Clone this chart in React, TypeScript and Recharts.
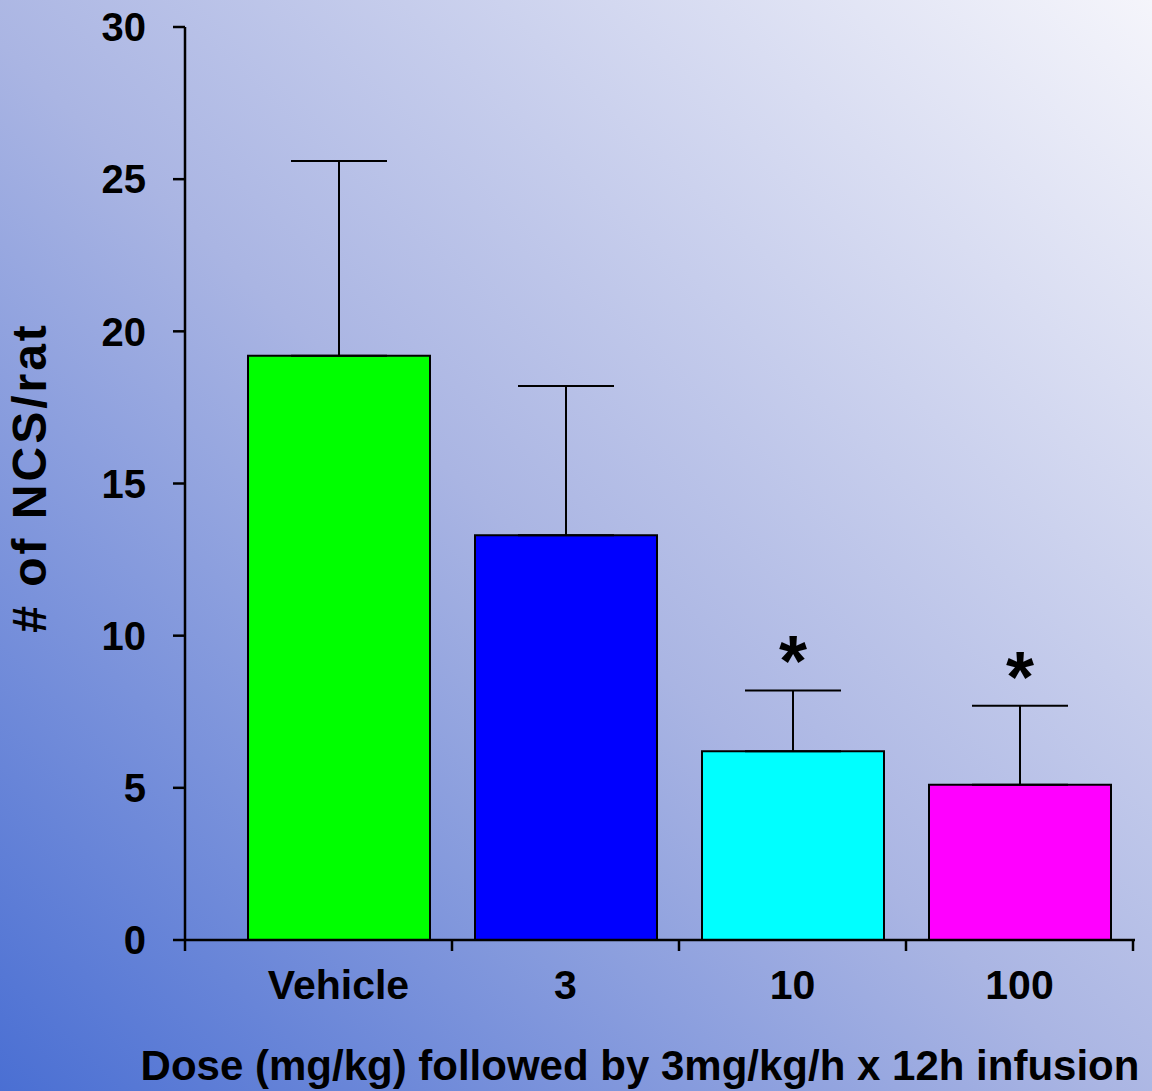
import { BarChart, Bar, XAxis, YAxis, Cell, ErrorBar, LabelList, Label } from "recharts";

const CATEGORIES = ["Vehicle", "3", "10", "100"];
const MEANS = [19.2, 13.3, 6.2, 5.1];
const SEMS = [6.4, 4.9, 2.0, 2.6];
const SIGNIFICANT = [false, false, true, true];
const BAR_COLORS = ["#00ff00", "#0000ff", "#00ffff", "#ff00ff"];
const Y_TICKS = [0, 5, 10, 15, 20, 25, 30];

const FONT = "'Liberation Sans', Arial, Helvetica, sans-serif";
const PAD_LEFT = 40;

const data = CATEGORIES.map((name, i) => ({
  name,
  value: MEANS[i],
  err: [0, SEMS[i]],
  sig: SIGNIFICANT[i] ? "*" : "",
}));

function XTick(props: any) {
  const { x, y, payload, index } = props;
  const half = payload?.offset ?? 0;
  return (
    <g>
      <line x1={x + half} x2={x + half} y1={y} y2={y + 11} stroke="#000" strokeWidth={2.5} />
      {index === 0 && (
        <line x1={x - half - PAD_LEFT} x2={x - half - PAD_LEFT} y1={y} y2={y + 11} stroke="#000" strokeWidth={2.5} />
      )}
      <text x={x} y={y + 59} textAnchor="middle" fontFamily={FONT} fontWeight="bold" fontSize={41} fill="#000">
        {payload.value}
      </text>
    </g>
  );
}

function renderStar(props: any) {
  const { x, y, width, height, value, index } = props;
  if (!value) return null;
  const ppu = Number(height) / MEANS[index];
  const capY = Number(y) - SEMS[index] * ppu;
  return (
    <text x={Number(x) + Number(width) / 2} y={capY - 4} textAnchor="middle" fontFamily={FONT} fontWeight="bold" fontSize={72} fill="#000">
      {value}
    </text>
  );
}

export default function App() {
  return (
    <div
      style={{
        position: "absolute",
        left: 0,
        top: 0,
        width: 1152,
        height: 1091,
        overflow: "hidden",
        background: "linear-gradient(to top right, #4a6fd3 0%, #aab5e3 48%, #f5f5fb 100%)",
      }}
    >
      <BarChart width={1152} height={1091} data={data} margin={{ top: 27, right: 17, bottom: 0, left: 0 }}>
        <XAxis
          dataKey="name"
          height={151}
          padding={{ left: PAD_LEFT, right: 2 }}
          axisLine={{ stroke: "#000", strokeWidth: 2.5 }}
          tickLine={false}
          tickSize={0}
          tickMargin={0}
          tick={<XTick />}
          interval={0}
        >
          <Label
            content={({ viewBox }: any) => (
              <text
                x={viewBox.x + viewBox.width / 2 - 20}
                y={1080}
                textAnchor="middle"
                fontFamily={FONT}
                fontWeight="bold"
                fontSize={42}
                fill="#000"
              >
                Dose (mg/kg) followed by 3mg/kg/h x 12h infusion
              </text>
            )}
          />
        </XAxis>
        <YAxis
          width={185}
          domain={[0, 30]}
          ticks={Y_TICKS}
          interval={0}
          axisLine={{ stroke: "#000", strokeWidth: 2.5 }}
          tickLine={{ stroke: "#000", strokeWidth: 2.5 }}
          tickSize={12}
          tickMargin={27}
          tick={{ fontFamily: FONT, fontWeight: "bold", fontSize: 40, fill: "#000" }}
        >
          <Label
            content={({ viewBox }: any) => {
              const cx = viewBox.x + 46;
              const cy = viewBox.y + viewBox.height / 2 - 6;
              return (
                <text
                  x={cx}
                  y={cy}
                  transform={`rotate(-90 ${cx} ${cy})`}
                  textAnchor="middle"
                  fontFamily={FONT}
                  fontWeight="bold"
                  fontSize={48}
                  letterSpacing={3}
                  fill="#000"
                >
                  # of NCS/rat
                </text>
              );
            }}
          />
        </YAxis>
        <Bar dataKey="value" barSize={182} stroke="#000" strokeWidth={2} isAnimationActive={false}>
          {data.map((d, i) => (
            <Cell key={d.name} fill={BAR_COLORS[i]} />
          ))}
          <ErrorBar dataKey="err" width={48} stroke="#000" strokeWidth={2} direction="y" />
          <LabelList dataKey="sig" content={renderStar} />
        </Bar>
      </BarChart>
    </div>
  );
}
